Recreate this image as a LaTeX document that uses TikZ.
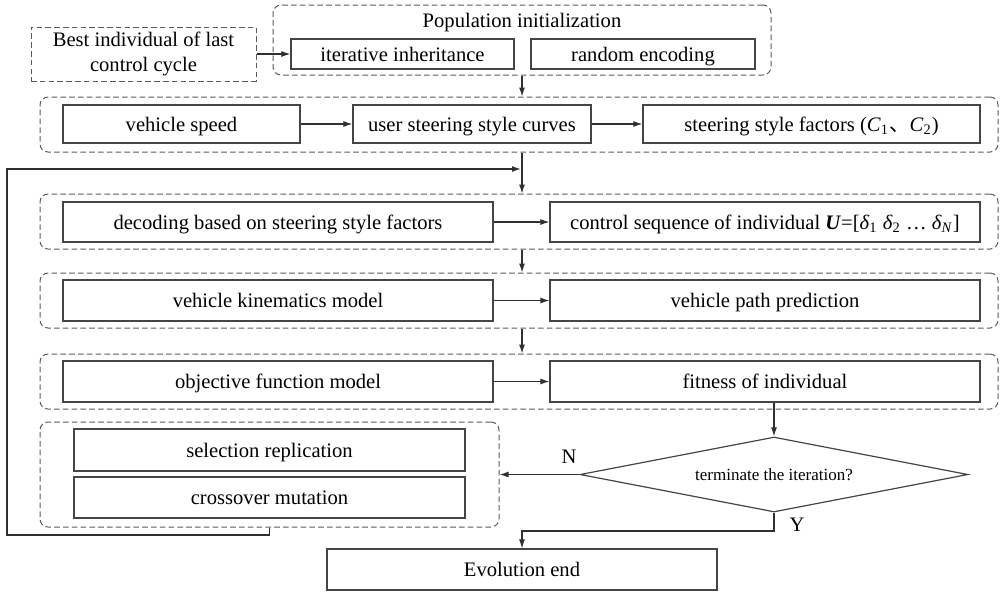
\documentclass[tikz,border=0pt]{standalone}
\usepackage{fontspec}
\setmainfont{Liberation Serif}
\newfontfamily\cjk{Noto Sans CJK SC}
\usetikzlibrary{shapes.geometric,arrows.meta}
\definecolor{boxline}{HTML}{454545}
\definecolor{grpline}{HTML}{5A5A5A}
\definecolor{flowline}{HTML}{303030}
\begin{document}
\begin{tikzpicture}[x=0.5pt,y=-0.5pt,
  every node/.style={font=\fontsize{10.3}{12.5}\selectfont, text=black},
  oneline/.style={text height=8.2pt, text depth=1pt},
  procbox/.style={draw=boxline, line width=0.6pt, rectangle, inner sep=0pt, align=center, oneline},
  grpbox/.style={draw=grpline, line width=0.5pt, dash pattern=on 2.8pt off 1.6pt, rounded corners=4pt, rectangle, inner sep=0pt},
  srcbox/.style={draw=grpline, line width=0.5pt, dash pattern=on 2.8pt off 1.6pt, rectangle, inner sep=0pt, align=center},
  decide/.style={draw=boxline, line width=0.6pt, diamond, shape aspect=5.2, inner sep=0pt,
    font=\fontsize{8.5}{10}\selectfont, text height=6.5pt, text depth=1pt},
  flow/.style={draw=flowline, line width=0.55pt, -{Latex[length=4.5pt,width=3pt]}},
  loopline/.style={draw=flowline, line width=0.75pt, -{Latex[length=4.5pt,width=3pt]}}
]
\useasboundingbox (0,0) rectangle (1000,591);

% population initialization
\node[srcbox, minimum width=112.5pt, minimum height=27pt] (best) at (143.5,54)
  {Best individual of last\\control cycle};
\node[grpbox, minimum width=249pt, minimum height=35pt] (popgrp) at (522,40) {};
\node[oneline] (poptitle) at (522,20) {Population initialization};
\node[procbox, minimum width=111.5pt, minimum height=15pt] (inherit) at (402.5,54) {iterative inheritance};
\node[procbox, minimum width=112pt, minimum height=15pt] (random) at (643,54) {random encoding};

% steering style
\node[grpbox, minimum width=479pt, minimum height=27.5pt] (g2) at (519,124.5) {};
\node[procbox, minimum width=118.5pt, minimum height=19pt] (speed) at (181.5,124) {vehicle speed};
\node[procbox, minimum width=119pt, minimum height=19pt] (curves) at (472,124) {user steering style curves};
\node[procbox, minimum width=168.5pt, minimum height=19pt] (factors) at (811.5,124)
  {steering style factors (\textit{C}\textsubscript{1}{\cjk 、}\textit{C}\textsubscript{2})};

% decoding
\node[grpbox, minimum width=479pt, minimum height=27.5pt] (g3) at (519,221.5) {};
\node[procbox, minimum width=215pt, minimum height=20pt] (decoding) at (278,222) {decoding based on steering style factors};
\node[procbox, minimum width=215pt, minimum height=20pt] (control) at (765,222)
  {control sequence of individual \textbf{\textit{U}}=[\textit{δ}\textsubscript{1} \textit{δ}\textsubscript{2} … \textit{δ}\textsubscript{\textit{N}}]};

% kinematics
\node[grpbox, minimum width=479pt, minimum height=27.5pt] (g4) at (519,300.5) {};
\node[procbox, minimum width=215pt, minimum height=20.5pt] (kinem) at (278,300.5) {vehicle kinematics model};
\node[procbox, minimum width=215pt, minimum height=20.5pt] (pathpred) at (765,300.5) {vehicle path prediction};

% objective
\node[grpbox, minimum width=479pt, minimum height=27.5pt] (g5) at (519,381.5) {};
\node[procbox, minimum width=215pt, minimum height=20.5pt] (objective) at (278,381.5) {objective function model};
\node[procbox, minimum width=215pt, minimum height=20.5pt] (fitness) at (765,381.5) {fitness of individual};

% genetic operators
\node[grpbox, minimum width=229.5pt, minimum height=52.5pt] (g6) at (269.5,474.5) {};
\node[procbox, minimum width=195.5pt, minimum height=21pt] (select) at (269.5,450) {selection replication};
\node[procbox, minimum width=195.5pt, minimum height=20.5pt] (cross) at (269.5,497.5) {crossover mutation};

% termination
\node[decide, minimum width=194pt, minimum height=37.5pt] (term) at (774,474.5) {terminate the iteration?};
\node[procbox, minimum width=195pt, minimum height=20.5pt] (evo) at (522,569.5) {Evolution end};

\coordinate (loopbot) at (7,535);
\coordinate (looptop) at (7,169);
\coordinate (loopjoin) at (521,169);
\coordinate (yturn) at (774,531);

% connectors
\draw[flow] (best.east) -- (inherit.west);
\draw[flow] (popgrp.south) -- (popgrp.south |- g2.north);
\draw[flow] (speed) -- (curves);
\draw[flow] (curves) -- (factors);
\draw[flow] (g2.south -| evo.north) -- (g3.north -| evo.north);
\draw[flow] (decoding) -- (control);
\draw[flow] (g3.south -| evo.north) -- (g4.north -| evo.north);
\draw[flow] (kinem) -- (pathpred);
\draw[flow] (g4.south -| evo.north) -- (g5.north -| evo.north);
\draw[flow] (objective) -- (fitness);
\draw[flow] (fitness.south -| term.north) -- (term.north);
\draw[flow] (term.west) -- (term.west -| g6.east);
\node[oneline] (nlabel) at (569,456) {N};
\draw[flow] (term.south) -- (yturn) -| (evo.north);
\node[oneline] (ylabel) at (797,524) {Y};
\draw[loopline] (g6.south) |- (loopbot) -- (looptop) -- (loopjoin);
\end{tikzpicture}
\end{document}
